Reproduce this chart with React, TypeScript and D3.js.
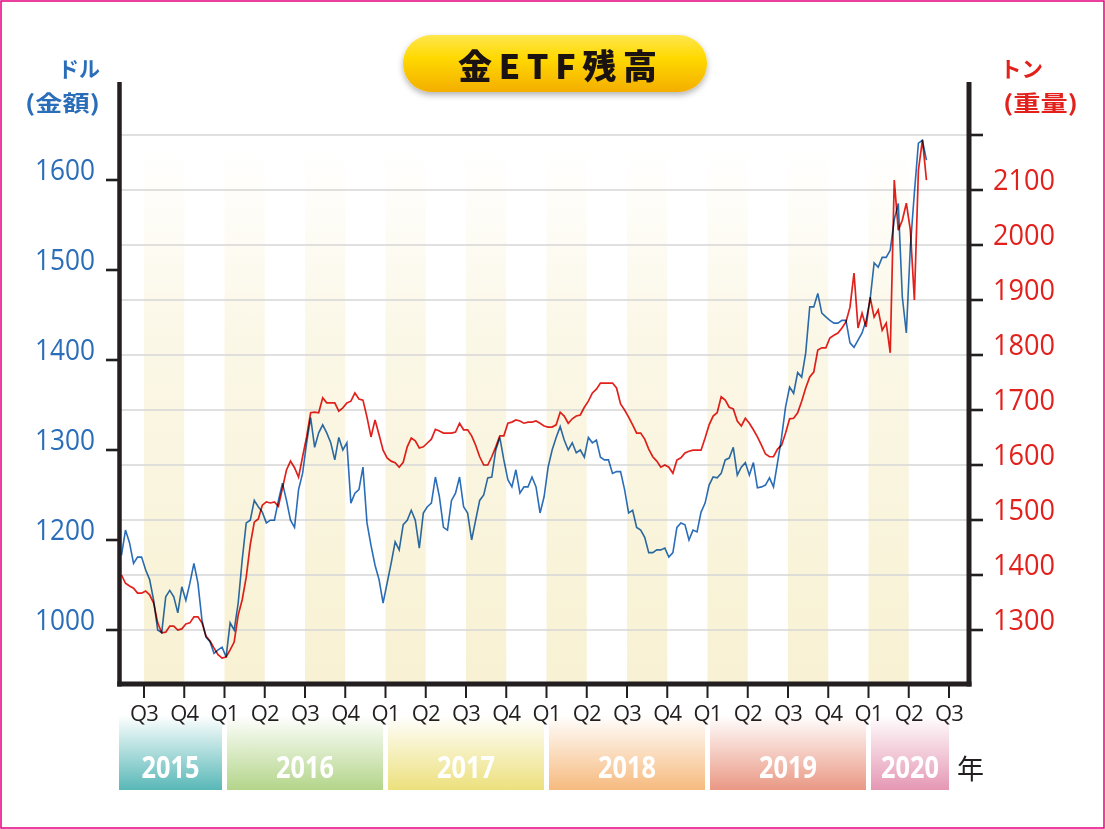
import React from 'react';
import * as d3 from 'd3';

// ---- data (sampled every STEP_YEARS from START_YEAR) ----
const START_YEAR = 2015.36;
const STEP_YEARS = 0.025;

// gold price, USD (left axis)
const goldPrice = [
  1183,1211,1197,1174,1181,1181,1167,1156,1133,1100,
  1097,1137,1144,1137,1119,1148,1133,1152,1174,1152,
  1111,1092,1087,1074,1078,1081,1070,1108,1100,1130,
  1178,1219,1222,1244,1237,1231,1219,1222,1222,1244,
  1263,1244,1222,1214,1256,1274,1308,1336,1303,1319,
  1328,1319,1308,1289,1314,1300,1308,1241,1252,1256,
  1281,1219,1194,1172,1156,1130,1152,1174,1198,1189,
  1217,1222,1233,1222,1191,1230,1237,1241,1270,1248,
  1214,1211,1244,1252,1270,1237,1230,1200,1222,1244,
  1250,1269,1270,1300,1314,1289,1267,1259,1278,1252,
  1259,1259,1270,1259,1230,1248,1281,1300,1314,1326,
  1311,1300,1308,1297,1300,1292,1314,1308,1311,1292,
  1289,1289,1274,1276,1276,1256,1230,1233,1214,1211,
  1203,1186,1186,1189,1189,1191,1181,1186,1214,1219,
  1217,1200,1211,1209,1231,1241,1261,1270,1269,1274,
  1289,1291,1303,1272,1281,1286,1272,1286,1258,1259,
  1261,1269,1259,1286,1314,1348,1370,1363,1386,1381,
  1408,1459,1459,1474,1452,1448,1444,1441,1441,1444,
  1444,1419,1414,1422,1430,1444,1467,1508,1503,1514,
  1514,1522,1556,1574,1470,1430,1526,1586,1641,1644,
  1622,
];

// gold ETF holdings, tonnes (right axis)
const etfTonnes = [
  1400,1385,1380,1376,1367,1367,1371,1364,1349,1313,
  1295,1296,1307,1307,1300,1302,1311,1313,1324,1324,
  1313,1289,1280,1267,1255,1249,1251,1264,1278,1327,
  1355,1396,1455,1496,1502,1527,1533,1531,1533,1525,
  1558,1591,1607,1595,1578,1615,1651,1695,1696,1695,
  1722,1713,1713,1713,1698,1704,1713,1716,1731,1720,
  1718,1687,1651,1682,1655,1627,1613,1607,1604,1596,
  1605,1633,1649,1644,1631,1633,1640,1647,1665,1662,
  1658,1658,1658,1660,1676,1664,1664,1653,1636,1615,
  1600,1600,1615,1633,1653,1653,1676,1678,1682,1680,
  1676,1678,1678,1680,1676,1671,1669,1669,1673,1696,
  1689,1676,1684,1689,1691,1705,1716,1731,1738,1749,
  1749,1749,1749,1740,1711,1700,1687,1673,1658,1658,
  1647,1629,1615,1607,1596,1600,1596,1585,1609,1613,
  1622,1625,1627,1627,1627,1649,1673,1689,1695,1724,
  1718,1705,1702,1680,1671,1685,1676,1664,1651,1636,
  1620,1615,1615,1629,1636,1658,1684,1685,1695,1716,
  1740,1760,1769,1809,1813,1813,1831,1836,1840,1849,
  1860,1887,1949,1849,1876,1851,1905,1869,1882,1845,
  1858,1804,2118,2027,2045,2076,2027,1900,2136,2191,
  2118,
];

const quarterStarts = [
  2015.5, 2015.75, 2016, 2016.25, 2016.5, 2016.75, 2017, 2017.25, 2017.5, 2017.75,
  2018, 2018.25, 2018.5, 2018.75, 2019, 2019.25, 2019.5, 2019.75, 2020, 2020.25, 2020.5,
];
const quarterLabels = [
  'Q3','Q4','Q1','Q2','Q3','Q4','Q1','Q2','Q3','Q4',
  'Q1','Q2','Q3','Q4','Q1','Q2','Q3','Q4','Q1','Q2','Q3',
];
const shadedQuarters = [2015.5, 2016, 2016.5, 2017, 2017.5, 2018, 2018.5, 2019, 2019.5, 2020];

const years = [2015, 2016, 2017, 2018, 2019, 2020];
const yearColors = ['#58b8b7', '#b3d58a', '#ece07c', '#f6ba7e', '#ea9884', '#e597b3'];

const leftTickValues = [1100, 1200, 1300, 1400, 1500, 1600];
const leftTickLabels = ['1000', '1200', '1300', '1400', '1500', '1600'];
const rightTickValues = [1300, 1400, 1500, 1600, 1700, 1800, 1900, 2000, 2100, 2200];
const rightTickLabels = ['1300', '1400', '1500', '1600', '1700', '1800', '1900', '2000', '2100', ''];

const TITLE = '金ETF残高';
const BLUE = '#2a6db8';
const RED = '#e3211c';
const INK = '#231f20';

export default function App() {
  const W = 1105, H = 829;
  const plotL = 120, plotR = 967, plotTop = 82, plotBottom = 684;

  const x = d3.scaleLinear().domain([2015.5, 2020.5]).range([144, 949]);
  const yL = d3.scaleLinear().domain([1100, 1200]).range([630, 540]);
  const yR = d3.scaleLinear().domain([1300, 1400]).range([630, 575]);

  const tOf = (i: number) => START_YEAR + i * STEP_YEARS;
  const goldLine = d3.line<number>().x((_, i) => x(tOf(i))).y((d) => yL(d));
  const etfLine = d3.line<number>().x((_, i) => x(tOf(i))).y((d) => yR(d));

  const numFont = '"Open Sans", "DejaVu Sans", sans-serif';
  const cjkFont = '"Noto Sans CJK JP", "Noto Sans", sans-serif';

  return (
    <svg width={W} height={H} style={{ position: 'absolute', left: 0, top: 0, display: 'block', background: '#fff' }}>
      <defs>
        <linearGradient id="bandGrad" gradientUnits="userSpaceOnUse" x1="0" y1="150" x2="0" y2={plotBottom}>
          <stop offset="0" stopColor="#f8f1d3" stopOpacity="0" />
          <stop offset="0.35" stopColor="#f8f1d3" stopOpacity="0.55" />
          <stop offset="1" stopColor="#f8f1d3" stopOpacity="1" />
        </linearGradient>
        <linearGradient id="pillGrad" x1="0" y1="0" x2="0" y2="1">
          <stop offset="0" stopColor="#ffe64d" />
          <stop offset="0.4" stopColor="#ffd900" />
          <stop offset="1" stopColor="#f4ae00" />
        </linearGradient>
        <filter id="pillShadow" x="-10%" y="-30%" width="120%" height="170%">
          <feDropShadow dx="0" dy="3" stdDeviation="3" floodColor="#000" floodOpacity="0.3" />
        </filter>
        {years.map((yr, k) => (
          <linearGradient key={yr} id={`yearGrad${k}`} x1="0" y1="0" x2="0" y2="1">
            <stop offset="0" stopColor="#ffffff" />
            <stop offset="1" stopColor={yearColors[k]} />
          </linearGradient>
        ))}
      </defs>

      {/* outer border */}
      <rect x={1} y={1} width={W - 2} height={H - 2} fill="none" stroke="#e4007f" strokeWidth={1.5} />

      {/* shaded quarters */}
      {shadedQuarters.map((q) => (
        <rect key={q} x={x(q)} y={150} width={x(q + 0.25) - x(q)} height={plotBottom - 150} fill="url(#bandGrad)" />
      ))}

      {/* gridlines */}
      {rightTickValues.map((v) => (
        <line key={v} x1={plotL} x2={plotR} y1={yR(v)} y2={yR(v)} stroke="#d6d6d6" strokeWidth={1.3} />
      ))}

      {/* series */}
      <path d={etfLine(etfTonnes) || ''} fill="none" stroke={RED} strokeWidth={1.7} strokeLinejoin="miter"
        style={{ mixBlendMode: 'multiply' }} />
      <path d={goldLine(goldPrice) || ''} fill="none" stroke={BLUE} strokeWidth={1.6} strokeLinejoin="miter"
        style={{ mixBlendMode: 'multiply' }} />

      {/* axes frame */}
      <line x1={plotL - 0.5} x2={plotL - 0.5} y1={plotTop} y2={plotBottom + 2.5} stroke={INK} strokeWidth={4.5} />
      <line x1={plotR + 2} x2={plotR + 2} y1={plotTop} y2={plotBottom + 2.5} stroke={INK} strokeWidth={5} />
      <line x1={plotL - 2.75} x2={plotR + 4.5} y1={plotBottom} y2={plotBottom} stroke={INK} strokeWidth={5} />

      {/* left ticks & labels */}
      {leftTickValues.map((v, k) => (
        <g key={v}>
          <line x1={106} x2={plotL - 2} y1={yL(v)} y2={yL(v)} stroke={INK} strokeWidth={2.6} />
          <text x={95} y={yL(v)} textAnchor="end" fill={BLUE} fontFamily={numFont} fontSize={29}
            textLength={60} lengthAdjust="spacingAndGlyphs">{leftTickLabels[k]}</text>
        </g>
      ))}

      {/* right ticks & labels */}
      {rightTickValues.map((v, k) => (
        <g key={v}>
          <line x1={plotR + 2} x2={983} y1={yR(v)} y2={yR(v)} stroke={INK} strokeWidth={2.6} />
          {rightTickLabels[k] && (
            <text x={993} y={yR(v)} textAnchor="start" fill={RED} fontFamily={numFont} fontSize={29}
              textLength={62} lengthAdjust="spacingAndGlyphs">{rightTickLabels[k]}</text>
          )}
        </g>
      ))}

      {/* axis titles */}
      <text x={58} y={77} fill={BLUE} fontFamily={cjkFont} fontWeight={700} fontSize={22}
        textLength={42} lengthAdjust="spacingAndGlyphs">ドル</text>
      <text x={25} y={111} fill={BLUE} fontFamily={cjkFont} fontWeight={700} fontSize={22}
        textLength={75} lengthAdjust="spacingAndGlyphs">(金額)</text>
      <text x={1000} y={77} fill={RED} fontFamily={cjkFont} fontWeight={700} fontSize={22}
        textLength={43} lengthAdjust="spacingAndGlyphs">トン</text>
      <text x={1003} y={111} fill={RED} fontFamily={cjkFont} fontWeight={700} fontSize={22}
        textLength={75} lengthAdjust="spacingAndGlyphs">(重量)</text>

      {/* year boxes */}
      {years.map((yr, k) => {
        const x0 = k === 0 ? plotL - 1 : x(yr) + 2.5;
        const x1 = k === years.length - 1 ? x(2020.5) : x(yr + 1) - 2.5;
        return (
          <g key={yr}>
            <rect x={x0} y={715} width={x1 - x0} height={75} fill={`url(#yearGrad${k})`} />
            <text x={(x0 + x1) / 2} y={778} textAnchor="middle" fill="#fff" fontFamily={numFont}
              fontWeight={700} fontSize={30} textLength={58} lengthAdjust="spacingAndGlyphs">{yr}</text>
          </g>
        );
      })}
      <text x={957} y={779} fill={INK} fontFamily={cjkFont} fontSize={27}>年</text>

      {/* quarter ticks & labels */}
      {quarterStarts.map((q, k) => (
        <g key={q}>
          <line x1={x(q)} x2={x(q)} y1={plotBottom + 2} y2={698} stroke={INK} strokeWidth={2} />
          <text x={x(q)} y={721} textAnchor="middle" fill={INK} fontFamily={numFont} fontSize={22}
            letterSpacing={-0.8}>{quarterLabels[k]}</text>
        </g>
      ))}

      {/* title pill */}
      <rect x={403} y={35} width={304} height={57} rx={28.5} fill="url(#pillGrad)" filter="url(#pillShadow)" />
      <text x={458} y={79} fill="#1a1311" fontFamily={cjkFont} fontWeight={900} fontSize={34}
        textLength={199} lengthAdjust="spacing">{TITLE}</text>
    </svg>
  );
}
